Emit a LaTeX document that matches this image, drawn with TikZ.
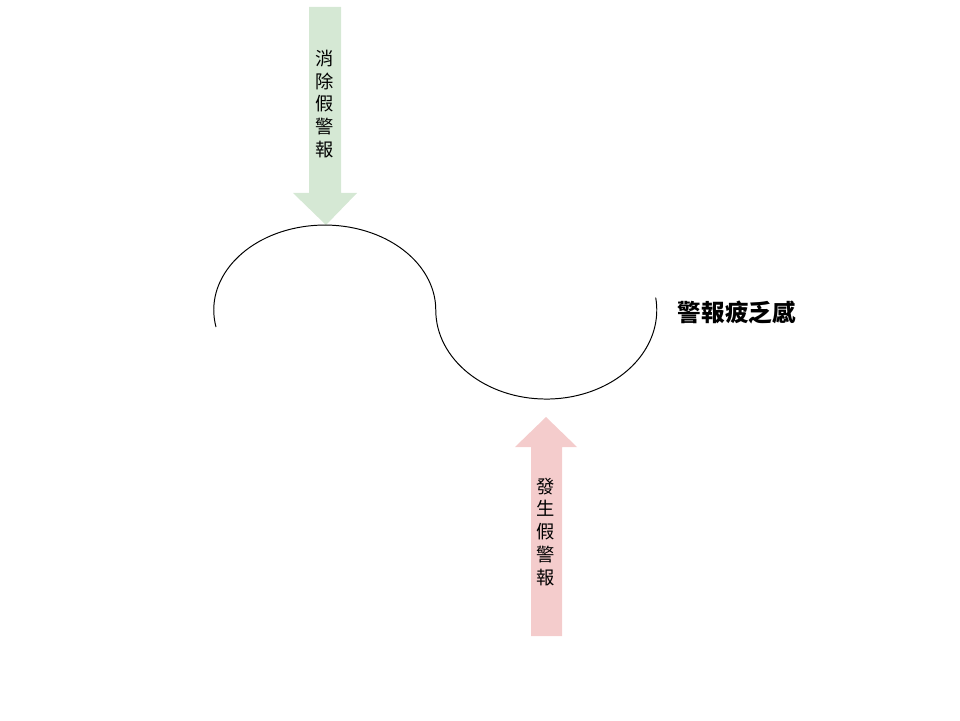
\documentclass[tikz,border=0pt]{standalone}
\usepackage{fontspec}
\newfontfamily\cjk{Noto Sans CJK TC}
\usepackage{tikz}
\usetikzlibrary{positioning,calc}

\definecolor{downgreen}{HTML}{D5E8D4}
\definecolor{uppink}{HTML}{F4CCCC}

\begin{document}
\begin{tikzpicture}[
  x=0.25mm, y=0.25mm,
  blockarrow/.style={draw=none},
  vlabel/.style={align=center, inner sep=0pt, font=\cjk\fontsize{13}{16.3}\selectfont},
  title/.style={inner sep=0pt, font=\cjk\bfseries\fontsize{16.8}{18}\selectfont},
  wave/.style={line width=0.7pt}
]
\useasboundingbox (0,0) rectangle (960,720);

% Top arrow (pointing down)
\fill[blockarrow, downgreen] (309,713) -- (341,713) -- (341,527) -- (357,527)
  -- (326,495) -- (293,527) -- (309,527) -- cycle;
\node[vlabel] (remove) at (325,616) {消\\除\\假\\警\\報};

% S-shaped curve
\coordinate (start) at (216,393);
\draw[wave] (start) arc[start angle=191.5, end angle=0, x radius=111, y radius=85]
  coordinate (mid)
  arc[start angle=180, end angle=368, x radius=110.5, y radius=89] coordinate (stop);

% Bottom arrow (pointing up)
\fill[blockarrow, uppink] (531,84) -- (562,84) -- (562,273) -- (577,273)
  -- (546,303) -- (515,273) -- (531,273) -- cycle;
\node[vlabel] (occur) at (546,188) {發\\生\\假\\警\\報};

% Label
\node[title] (fatigue) at (737,408) {警報疲乏感};
\end{tikzpicture}
\end{document}
